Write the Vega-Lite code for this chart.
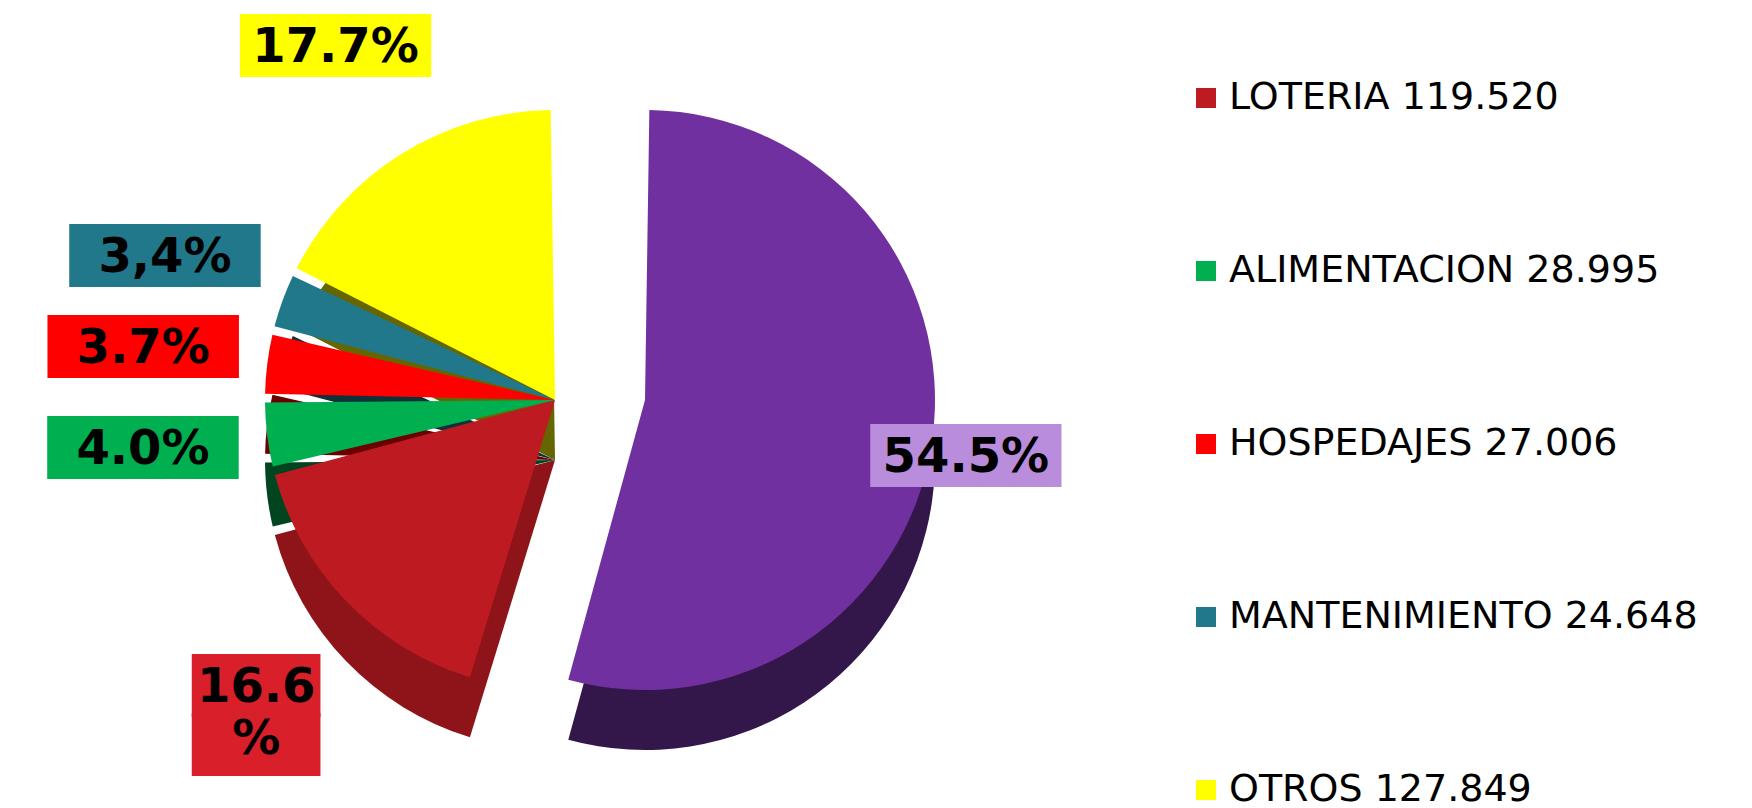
{
  "$schema": "https://vega.github.io/schema/vega-lite/v6.json",
  "width": 1180,
  "height": 800,
  "padding": 0,
  "background": "white",
  "config": {"view": {"stroke": null}},
  "data": {
    "values": [
      {"categoria": "RESTO", "valor": 392901, "orden": 1, "etiqueta": "54.5%"},
      {"categoria": "LOTERIA 119.520", "valor": 119520, "orden": 2, "etiqueta": "16.6\n%"},
      {"categoria": "ALIMENTACION 28.995", "valor": 28995, "orden": 3, "etiqueta": "4.0%"},
      {"categoria": "HOSPEDAJES 27.006", "valor": 27006, "orden": 4, "etiqueta": "3.7%"},
      {"categoria": "MANTENIMIENTO 24.648", "valor": 24648, "orden": 5, "etiqueta": "3,4%"},
      {"categoria": "OTROS 127.849", "valor": 127849, "orden": 6, "etiqueta": "17.7%"}
    ]
  },
  "encoding": {
    "theta": {"field": "valor", "type": "quantitative", "stack": true},
    "order": {"field": "orden", "type": "quantitative"}
  },
  "layer": [
    {
      "mark": {"type": "arc", "radius": 290, "padAngle": 0.03, "xOffset": -35, "yOffset": 60},
      "encoding": {
        "color": {"field": "categoria", "type": "nominal", "legend": null,
          "scale": {"domain": ["RESTO", "LOTERIA 119.520", "ALIMENTACION 28.995", "HOSPEDAJES 27.006", "MANTENIMIENTO 24.648", "OTROS 127.849"],
                    "range": ["#34174a", "#8e141a", "#004520", "#6a0000", "#10303a", "#666600"]}},
        "opacity": {"condition": {"test": "datum.orden === 1", "value": 0}, "value": 1}
      }
    },
    {
      "mark": {"type": "arc", "radius": 290, "padAngle": 0.03, "xOffset": 55, "yOffset": 60},
      "encoding": {
        "color": {"field": "categoria", "type": "nominal", "legend": null,
          "scale": {"domain": ["RESTO", "LOTERIA 119.520", "ALIMENTACION 28.995", "HOSPEDAJES 27.006", "MANTENIMIENTO 24.648", "OTROS 127.849"],
                    "range": ["#34174a", "#8e141a", "#004520", "#6a0000", "#10303a", "#666600"]}},
        "opacity": {"condition": {"test": "datum.orden === 1", "value": 1}, "value": 0}
      }
    },
    {
      "mark": {"type": "arc", "radius": 290, "padAngle": 0.03, "xOffset": -35},
      "encoding": {
        "color": {"field": "categoria", "type": "nominal",
          "scale": {"domain": ["RESTO", "LOTERIA 119.520", "ALIMENTACION 28.995", "HOSPEDAJES 27.006", "MANTENIMIENTO 24.648", "OTROS 127.849"],
                    "range": ["#7030a0", "#be1a22", "#00b050", "#ff0000", "#21788a", "#ffff00"]},
          "legend": {
            "orient": "none", "legendX": 1187, "legendY": 79, "title": null,
            "values": ["LOTERIA 119.520", "ALIMENTACION 28.995", "HOSPEDAJES 27.006", "MANTENIMIENTO 24.648", "OTROS 127.849"],
            "symbolType": "square", "symbolSize": 400, "symbolStrokeWidth": 0,
            "labelFont": "DejaVu Sans", "labelFontSize": 38, "labelColor": "black",
            "labelOffset": 4, "labelLimit": 800, "rowPadding": 135, "padding": 0
          }
        },
        "opacity": {"condition": {"test": "datum.orden === 1", "value": 0}, "value": 1}
      }
    },
    {
      "mark": {"type": "arc", "radius": 290, "padAngle": 0.03, "xOffset": 55},
      "encoding": {
        "color": {"field": "categoria", "type": "nominal", "legend": null,
          "scale": {"domain": ["RESTO", "LOTERIA 119.520", "ALIMENTACION 28.995", "HOSPEDAJES 27.006", "MANTENIMIENTO 24.648", "OTROS 127.849"],
                    "range": ["#7030a0", "#be1a22", "#00b050", "#ff0000", "#21788a", "#ffff00"]}},
        "opacity": {"condition": {"test": "datum.orden === 1", "value": 1}, "value": 0}
      }
    },
    {
      "mark": {"type": "text", "radius": 415, "font": "DejaVu Sans Mono", "fontSize": 53, "lineHeight": 59, "xOffset": -35, "align": "center", "baseline": "middle"},
      "encoding": {
        "text": {"condition": {"test": "datum.orden === 2", "value": ["████", "████"]}, "value": "▐█████▌"},
        "color": {"field": "categoria", "type": "nominal", "legend": null,
          "scale": {"domain": ["RESTO", "LOTERIA 119.520", "ALIMENTACION 28.995", "HOSPEDAJES 27.006", "MANTENIMIENTO 24.648", "OTROS 127.849"],
                    "range": ["#b98ddb", "#d81f2a", "#00b050", "#ff0000", "#21788a", "#ffff00"]}}
      }
    },
    {
      "mark": {"type": "text", "radius": 415, "font": "DejaVu Sans", "fontWeight": "bold", "fontSize": 48, "lineBreak": "\n", "lineHeight": 52, "xOffset": -35, "align": "center", "baseline": "middle", "color": "black"},
      "encoding": {
        "text": {"field": "etiqueta", "type": "nominal"}
      }
    }
  ],
  "resolve": {"scale": {"color": "independent"}}
}
